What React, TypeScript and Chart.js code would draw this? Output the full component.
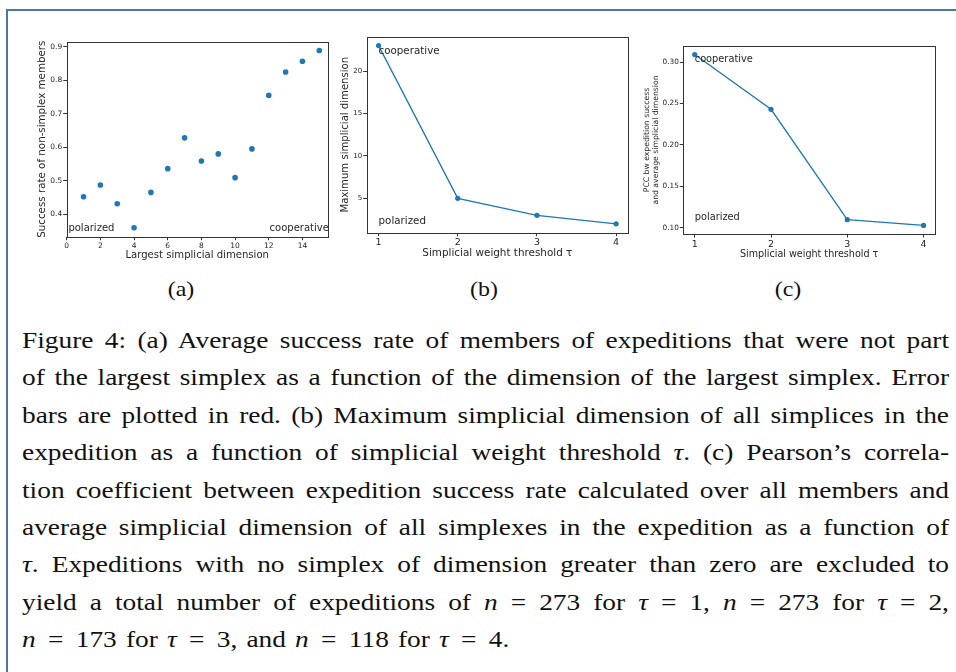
import React, { useEffect, useRef } from "react";
import { Chart, registerables } from "chart.js";

Chart.register(...registerables);

// ---------- data ----------
const dimA = [1, 2, 3, 4, 5, 6, 7, 8, 9, 10, 11, 12, 13, 14, 15];
const successA = [0.452, 0.487, 0.431, 0.359, 0.465, 0.536, 0.628, 0.559, 0.58, 0.509, 0.595, 0.755, 0.825, 0.857, 0.889];
const xTicksA = [0, 2, 4, 6, 8, 10, 12, 14];
const yTicksA = [0.4, 0.5, 0.6, 0.7, 0.8, 0.9];

const tau = [1, 2, 3, 4];
const maxDimB = [23, 5, 3, 2];
const yTicksB = [5, 10, 15, 20];

const pccC = [0.309, 0.243, 0.11, 0.103];
const yTicksC = [0.1, 0.15, 0.2, 0.25, 0.3];

const notesA = [
  { text: "polarized", x: 0.1, y: 0.35 },
  { text: "cooperative", x: 12.05, y: 0.35 },
];
const notesB = [
  { text: "cooperative", x: 1, y: 22 },
  { text: "polarized", x: 1, y: 2 },
];
const notesC = [
  { text: "cooperative", x: 1, y: 0.3 },
  { text: "polarized", x: 1, y: 0.11 },
];

const BLUE = "#1f77b4";
const SANS = "DejaVu Sans";
const INK = "#262626";

const framePlugin = {
  id: "frame",
  afterDatasetsDraw(chart: any, _args: any, opts: any) {
    const { ctx, scales } = chart;
    const notes = (opts && opts.notes) || [];
    ctx.save();
    ctx.fillStyle = INK;
    ctx.font = `${opts.noteSize || 9.5}px ${SANS}`;
    ctx.textAlign = "left";
    ctx.textBaseline = "alphabetic";
    for (const n of notes) {
      ctx.fillText(n.text, scales.x.getPixelForValue(n.x), scales.y.getPixelForValue(n.y));
    }
    ctx.restore();
  },
  afterDraw(chart: any) {
    const { ctx, chartArea: a } = chart;
    ctx.save();
    ctx.strokeStyle = "#333";
    ctx.lineWidth = 1;
    ctx.strokeRect(Math.round(a.left) + 0.5, Math.round(a.top) + 0.5, Math.round(a.right - a.left), Math.round(a.bottom - a.top));
    ctx.restore();
  },
};

function makeConfig(o: any) {
  const data = o.xs.map((x: number, i: number) => ({ x, y: o.ys[i] }));
  return {
    type: "scatter",
    data: {
      datasets: [
        {
          data,
          showLine: o.showLine,
          borderColor: BLUE,
          backgroundColor: BLUE,
          borderWidth: 1.3,
          pointRadius: o.pointRadius,
          pointBorderWidth: 0,
          pointBackgroundColor: BLUE,
        },
      ],
    },
    options: {
      responsive: false,
      animation: false,
      events: [],
      layout: { padding: o.padding },
      plugins: {
        legend: { display: false },
        tooltip: { enabled: false },
        frame: { notes: o.notes, noteSize: o.noteSize },
      },
      scales: {
        x: {
          type: "linear",
          min: o.xMin,
          max: o.xMax,
          afterBuildTicks: (s: any) => {
            s.ticks = o.xTicks.map((v: number) => ({ value: v }));
          },
          afterFit: (s: any) => {
            s.height = o.xAxisHeight;
          },
          ticks: {
            autoSkip: false,
            maxRotation: 0,
            padding: 1,
            color: INK,
            font: { family: SANS, size: o.xTickSize },
            callback: (v: any) => Number(v).toFixed(o.xDigits),
          },
          grid: { display: true, drawOnChartArea: false, drawTicks: true, tickLength: 3.5, color: "#333", lineWidth: 1 },
          border: { display: false },
          title: {
            display: true,
            text: o.xTitle,
            color: INK,
            font: { family: SANS, size: o.xTitleSize, lineHeight: 1.2 },
            padding: { top: 0, bottom: o.xTitlePad },
          },
        },
        y: {
          type: "linear",
          min: o.yMin,
          max: o.yMax,
          afterBuildTicks: (s: any) => {
            s.ticks = o.yTicks.map((v: number) => ({ value: v }));
          },
          afterFit: (s: any) => {
            s.width = o.yAxisWidth;
          },
          ticks: {
            autoSkip: false,
            padding: 1,
            color: INK,
            font: { family: SANS, size: o.yTickSize },
            callback: (v: any) => Number(v).toFixed(o.yDigits),
          },
          grid: { display: true, drawOnChartArea: false, drawTicks: true, tickLength: 3.5, color: "#333", lineWidth: 1 },
          border: { display: false },
          title: {
            display: true,
            text: o.yTitle,
            color: INK,
            font: { family: SANS, size: o.yTitleSize, lineHeight: o.yTitleLH || 1.2 },
            padding: { top: o.yTitlePad, bottom: 0 },
          },
        },
      },
    },
    plugins: [framePlugin],
  };
}

function Panel({ cfg, left, top, width, height }: any) {
  const ref = useRef<HTMLCanvasElement>(null);
  useEffect(() => {
    const chart = new Chart(ref.current as HTMLCanvasElement, cfg as any);
    return () => chart.destroy();
  }, []);
  return (
    <canvas
      ref={ref}
      width={width}
      height={height}
      style={{ position: "absolute", left, top, width, height }}
    />
  );
}

const cfgA = makeConfig({
  xs: dimA, ys: successA, showLine: false, pointRadius: 2.8,
  xMin: 0, xMax: 15.5, yMin: 0.3325, yMax: 0.9155,
  xTicks: xTicksA, yTicks: yTicksA, xDigits: 0, yDigits: 1,
  xTickSize: 7.5, yTickSize: 7.5,
  xTitle: "Largest simplicial dimension", yTitle: "Success rate of non-simplex members",
  xTitleSize: 10.1, yTitleSize: 10.3, xTitlePad: 9, yTitlePad: 6.2,
  yAxisWidth: 36.7, xAxisHeight: 33.3,
  padding: { top: 11.7, right: 4.3, left: 0, bottom: 0 },
  notes: notesA, noteSize: 10,
});

const cfgB = makeConfig({
  xs: tau, ys: maxDimB, showLine: true, pointRadius: 2.6,
  xMin: 0.85, xMax: 4.15, yMin: 0.95, yMax: 24.05,
  xTicks: tau, yTicks: yTicksB, xDigits: 0, yDigits: 0,
  xTickSize: 9.5, yTickSize: 7,
  xTitle: "Simplicial weight threshold τ", yTitle: "Maximum simplicial dimension",
  xTitleSize: 10.4, yTitleSize: 10.1, xTitlePad: 10, yTitlePad: 9,
  yAxisWidth: 36.7, xAxisHeight: 37.3,
  padding: { top: 6.7, right: 3.7, left: 0, bottom: 0 },
  notes: notesB, noteSize: 10.3,
});

const cfgC = makeConfig({
  xs: tau, ys: pccC, showLine: true, pointRadius: 2.6,
  xMin: 0.85, xMax: 4.15, yMin: 0.0927, yMax: 0.3193,
  xTicks: tau, yTicks: yTicksC, xDigits: 0, yDigits: 2,
  xTickSize: 9.5, yTickSize: 7.3,
  xTitle: "Simplicial weight threshold τ",
  yTitle: ["PCC bw expedition success", "and average simplicial dimension"],
  xTitleSize: 9.6, yTitleSize: 7.7, yTitleLH: 1.2, xTitlePad: 9.4, yTitlePad: 2,
  yAxisWidth: 43.3, xAxisHeight: 36,
  padding: { top: 16, right: 10, left: 0, bottom: 0 },
  notes: notesC, noteSize: 9.8,
});

const SERIF = "'Liberation Serif', 'Times New Roman', serif";
const CAP_SCALE = 1.14;
const CAP_WIDTH = 927;

const Eq = () => <span style={{ margin: "0 0.45em" }}>=</span>;

const captionLines: React.ReactNode[] = [
  <>Figure 4: (a) Average success rate of members of expeditions that were not part</>,
  <>of the largest simplex as a function of the dimension of the largest simplex. Error</>,
  <>bars are plotted in red. (b) Maximum simplicial dimension of all simplices in the</>,
  <>expedition as a function of simplicial weight threshold <i>τ</i>. (c) Pearson’s correla-</>,
  <>tion coefficient between expedition success rate calculated over all members and</>,
  <>average simplicial dimension of all simplexes in the expedition as a function of</>,
  <><i>τ</i>. Expeditions with no simplex of dimension greater than zero are excluded to</>,
  <>yield a total number of expeditions of <i>n</i> = 273 for <i>τ</i> = 1, <i>n</i> = 273 for <i>τ</i> = 2,</>,
  <><i>n</i><Eq />173 for <i>τ</i><Eq />3, and <i>n</i><Eq />118 for <i>τ</i><Eq />4.</>,
];

export default function App() {
  return (
    <div
      style={{
        position: "absolute",
        left: 0,
        top: 0,
        width: 956,
        height: 672,
        overflow: "hidden",
        background: "#fff",
      }}
    >
      <div
        style={{
          position: "absolute",
          left: 6,
          top: 9,
          width: 1100,
          height: 1000,
          borderTop: "2px solid #4f76a2",
          borderLeft: "2px solid #4f76a2",
        }}
      />
      <Panel cfg={cfgA} left={30} top={30} width={302} height={240} />
      <Panel cfg={cfgB} left={330} top={30} width={302} height={240} />
      <Panel cfg={cfgC} left={640} top={30} width={305} height={240} />
      {["(a)", "(b)", "(c)"].map((t, i) => (
        <div
          key={t}
          style={{
            position: "absolute",
            left: [181, 484, 788][i] - 30,
            width: 60,
            top: 276,
            lineHeight: "26px",
            textAlign: "center",
            fontFamily: SERIF,
            fontSize: 21,
            color: "#111",
            transform: `scaleX(${CAP_SCALE})`,
          }}
        >
          {t}
        </div>
      ))}
      <div
        style={{
          position: "absolute",
          left: 22,
          top: 322,
          width: CAP_WIDTH / CAP_SCALE,
          fontFamily: SERIF,
          fontSize: 24,
          lineHeight: "37.4px",
          color: "#111",
          transform: `scaleX(${CAP_SCALE})`,
          transformOrigin: "left top",
        }}
      >
        {captionLines.map((ln, i) => {
          const last = i === captionLines.length - 1;
          return (
            <div
              key={i}
              style={{
                textAlign: "justify",
                textAlignLast: last ? "left" : "justify",
                whiteSpace: "nowrap",
                wordSpacing: last ? "2px" : undefined,
              }}
            >
              {ln}
            </div>
          );
        })}
      </div>
    </div>
  );
}
